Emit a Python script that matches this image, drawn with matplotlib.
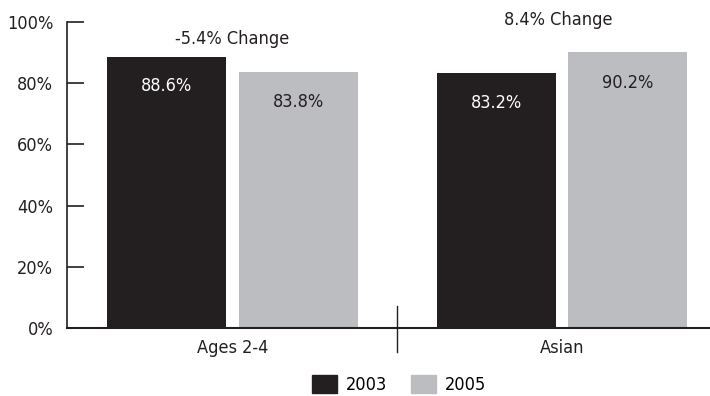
import numpy as np
import matplotlib
matplotlib.use("Agg")
import matplotlib.pyplot as plt
from matplotlib.patches import Patch

plt.rcParams['font.family'] = ['DejaVu Sans']
plt.rcParams['font.stretch'] = 'condensed'

# data
categories = ["Ages 2-4", "Asian"]
years = ["2003", "2005"]
values_2003 = [88.6, 83.2]
values_2005 = [83.8, 90.2]
changes = ["-5.4% Change", "8.4% Change"]
yticks = [0, 20, 40, 60, 80, 100]

DARK = "#231f20"
GRAY = "#bcbdc0"
FS = 13

fig = plt.figure(figsize=(7.10, 3.96), dpi=100)
ax = fig.add_axes([0.0944, 0.1717, 0.9056, 0.7727])

x = np.arange(len(categories))
width = 0.361
off = 0.2
ax.bar(x - off, values_2003, width, color=DARK, zorder=2)
ax.bar(x + off, values_2005, width, color=GRAY, zorder=2)

# value labels inside the bars
for xi, v in zip(x, values_2003):
    ax.annotate(f"{v}%", (xi - off, v), xytext=(0, -21), textcoords="offset points",
                ha="center", va="center", color="white", fontsize=FS)
for xi, v in zip(x, values_2005):
    ax.annotate(f"{v}%", (xi + off, v), xytext=(0, -22), textcoords="offset points",
                ha="center", va="center", color=DARK, fontsize=FS)

# change annotations
change_y = [94.4, 100.7]
change_x = [0.0, 0.99]
for cx, cy, txt in zip(change_x, change_y, changes):
    ax.text(cx, cy, txt, ha="center", va="center", color=DARK, fontsize=FS, clip_on=False)

# divider between groups
ax.plot([0.5, 0.5], [7.2, -7.8], color=DARK, lw=1.0, clip_on=False)

ax.set_xlim(-0.502, 1.449)
ax.set_ylim(0, 100)
ax.set_yticks(yticks)
ax.set_yticklabels([f"{t}%" for t in yticks], fontsize=FS, color=DARK)
ax.set_xticks(x)
ax.set_xticklabels(categories, fontsize=FS, color=DARK)
ax.tick_params(axis="y", direction="in", length=12, width=1.2, color=DARK, pad=10)
ax.tick_params(axis="x", length=0, pad=8)

for s in ["top", "right"]:
    ax.spines[s].set_visible(False)
ax.spines["left"].set_color(DARK)
ax.spines["bottom"].set_color(DARK)
ax.spines["left"].set_linewidth(1.2)
ax.spines["bottom"].set_linewidth(1.5)

handles = [Patch(color=DARK), Patch(color=GRAY)]
fig.legend(handles, years, loc="center", bbox_to_anchor=(0.562, 0.03), ncol=2,
           frameon=False, fontsize=FS, handlelength=1.4, handleheight=1.15,
           columnspacing=1.3, handletextpad=0.5, borderpad=0)

fig.savefig("out.png", dpi=100)
